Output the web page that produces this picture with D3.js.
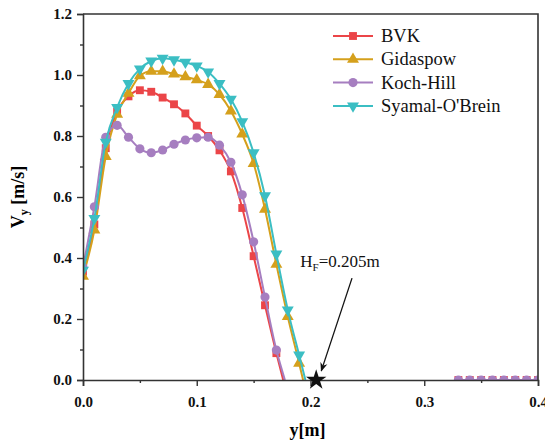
<!DOCTYPE html>
<html>
<head>
<meta charset="utf-8">
<script src="https://cdn.jsdelivr.net/npm/d3@7"></script>
<style>
  html, body { margin: 0; padding: 0; background: #fff; }
  svg { display: block; }
  text { font-family: "Liberation Serif", "Times New Roman", serif; }
</style>
</head>
<body>
<svg id="chart" width="545" height="443"></svg>
<script>
// Radial positions (m) where the vertical velocity was sampled
const yPos = [0.00, 0.01, 0.02, 0.03, 0.04, 0.05, 0.06, 0.07, 0.08, 0.09,
              0.10, 0.11, 0.12, 0.13, 0.14, 0.15, 0.16, 0.17, 0.18, 0.19];

// Vertical velocity Vy (m/s) per drag model
const bvk      = [0.355, 0.510, 0.760, 0.880, 0.930, 0.950, 0.945, 0.926, 0.904, 0.874,
                  0.834, 0.800, 0.753, 0.684, 0.564, 0.406, 0.245, 0.088];
const gidaspow = [0.340, 0.492, 0.733, 0.871, 0.940, 0.997, 1.012, 1.012, 1.003, 0.994,
                  0.984, 0.969, 0.936, 0.882, 0.806, 0.710, 0.560, 0.379, 0.208, 0.055];
const kochHill = [0.370, 0.568, 0.796, 0.835, 0.796, 0.758, 0.745, 0.754, 0.773, 0.787,
                  0.794, 0.796, 0.770, 0.714, 0.607, 0.453, 0.272, 0.098];
const syamal   = [0.360, 0.530, 0.780, 0.894, 0.972, 1.020, 1.046, 1.055, 1.050, 1.042,
                  1.030, 1.010, 0.972, 0.921, 0.847, 0.745, 0.604, 0.413, 0.230, 0.082];

// Position where each profile drops to zero velocity
const zeroAt = [0.176, 0.1935, 0.1775, 0.1955];

// Stagnant region near the wall (Vy = 0)
const wallPos  = [0.33, 0.34, 0.35, 0.36, 0.37, 0.38, 0.39, 0.40];
const wallBvk  = [0, 0, 0, 0, 0, 0, 0, 0];
const wallKoch = [0, 0, 0, 0, 0, 0, 0, 0];

const seriesNames = ["BVK", "Gidaspow", "Koch-Hill", "Syamal-O'Brein"];

// Bed height marker
const bedHeight = 0.205;
const bedLabel = "0.205m";

const xTicks = [0, 0.1, 0.2, 0.3, 0.4];
const yTicks = [0, 0.2, 0.4, 0.6, 0.8, 1.0, 1.2];

// ---- layout ----
const margin = { left: 83, right: 7, top: 14, bottom: 63 };
const W = 545, H = 443;
const svg = d3.select("#chart");

const x = d3.scaleLinear().domain([0, 0.4]).range([margin.left, W - margin.right]);
const y = d3.scaleLinear().domain([0, 1.2]).range([H - margin.bottom, margin.top]);

const colors  = ["#EB4548", "#D5A01C", "#A67EC0", "#3BBEC3"];
const shapes  = [d3.symbolSquare, d3.symbolTriangle, d3.symbolCircle, d3.symbolTriangle];
const sizes   = [62, 62, 66, 62];
const rotates = [0, 0, 0, 180];
const valueSets = [bvk, gidaspow, kochHill, syamal];

svg.append("defs").append("clipPath").attr("id", "plotClip")
  .append("rect")
  .attr("x", x(0)).attr("y", y(1.2))
  .attr("width", x(0.4) - x(0)).attr("height", y(0) - y(1.2));

const plot = svg.append("g").attr("clip-path", "url(#plotClip)");

const line = d3.line()
  .x(d => x(d[0])).y(d => y(d[1]))
  .curve(d3.curveMonotoneX);

function drawMarkers(g, pts, i) {
  g.selectAll(null).data(pts).join("path")
    .attr("d", d3.symbol().type(shapes[i]).size(sizes[i]))
    .attr("transform", d => `translate(${x(d[0])},${y(d[1])}) rotate(${rotates[i]})`)
    .attr("fill", colors[i]);
}

valueSets.forEach((vals, i) => {
  const pts = vals.map((v, k) => [yPos[k], v]);
  const g = plot.append("g");
  g.append("path")
    .datum(pts.concat([[zeroAt[i], 0]]))
    .attr("d", line)
    .attr("fill", "none")
    .attr("stroke", colors[i])
    .attr("stroke-width", 2);
  drawMarkers(g, pts, i);
});

// wall region points
[[wallBvk, 0], [wallKoch, 2]].forEach(([vals, i]) => {
  const pts = vals.map((v, k) => [wallPos[k], v]);
  const g = plot.append("g");
  g.append("path").datum(pts).attr("d", line)
    .attr("fill", "none").attr("stroke", colors[i]).attr("stroke-width", 2);
  drawMarkers(g, pts, i);
});

// ---- axes ----
const axisColor = "#333";
const xAxis = svg.append("g")
  .attr("transform", `translate(0,${y(0)})`)
  .call(d3.axisBottom(x).tickValues(xTicks).tickFormat(d3.format(".1f")).tickSize(6).tickPadding(10));
const xMinor = svg.append("g")
  .attr("transform", `translate(0,${y(0)})`)
  .call(d3.axisBottom(x).tickValues([0.05, 0.15, 0.25, 0.35]).tickFormat("").tickSize(3));
const yAxis = svg.append("g")
  .attr("transform", `translate(${x(0)},0)`)
  .call(d3.axisLeft(y).tickValues(yTicks).tickFormat(d3.format(".1f")).tickSize(6).tickPadding(5));
const yMinor = svg.append("g")
  .attr("transform", `translate(${x(0)},0)`)
  .call(d3.axisLeft(y).tickValues([0.1, 0.3, 0.5, 0.7, 0.9, 1.1]).tickFormat("").tickSize(3));

[xAxis, xMinor, yAxis, yMinor].forEach(a => {
  a.select(".domain").attr("stroke", axisColor).attr("stroke-width", 1.6);
  a.selectAll(".tick line").attr("stroke", axisColor).attr("stroke-width", 1.4);
  a.selectAll(".tick text")
    .attr("fill", "#111")
    .style("font-family", "'Liberation Serif', serif")
    .style("font-size", "15px")
    .style("font-weight", "bold");
});
xMinor.select(".domain").remove();
yMinor.select(".domain").remove();

// top and right frame
svg.append("path")
  .attr("d", `M${x(0)},${y(1.2)}H${x(0.4)}V${y(0)}`)
  .attr("fill", "none").attr("stroke", axisColor).attr("stroke-width", 1.6);

// axis titles
svg.append("text")
  .attr("x", (x(0) + x(0.4)) / 2 - 3).attr("y", 436)
  .attr("text-anchor", "middle")
  .style("font-size", "18px").style("font-weight", "bold")
  .text("y[m]");

const yt = svg.append("text")
  .attr("transform", `translate(24,${(y(0) + y(1.2)) / 2}) rotate(-90)`)
  .attr("text-anchor", "middle")
  .style("font-size", "18px").style("font-weight", "bold");
yt.append("tspan").text("V");
yt.append("tspan").attr("dy", 4).style("font-size", "12px").text("y");
yt.append("tspan").attr("dy", -4).text(" [m/s]");

// ---- legend ----
const legend = svg.append("g");
seriesNames.forEach((name, i) => {
  const ly = 36 + i * 23.3;
  legend.append("line")
    .attr("x1", 333).attr("x2", 373).attr("y1", ly).attr("y2", ly)
    .attr("stroke", colors[i]).attr("stroke-width", 2);
  legend.append("path")
    .attr("d", d3.symbol().type(shapes[i]).size(sizes[i])())
    .attr("transform", `translate(353,${ly}) rotate(${rotates[i]})`)
    .attr("fill", colors[i]);
  legend.append("text")
    .attr("x", 381).attr("y", ly + 6)
    .style("font-size", "18.5px").attr("fill", "#111")
    .text(name);
});

// ---- bed height annotation ----
svg.append("defs").append("marker")
  .attr("id", "arrowHead")
  .attr("viewBox", "0 0 10 10").attr("refX", 9).attr("refY", 5)
  .attr("markerWidth", 7).attr("markerHeight", 7)
  .attr("orient", "auto")
  .append("path").attr("d", "M0,1L10,5L0,9L3,5Z").attr("fill", "#111");

svg.append("line")
  .attr("x1", x(0.2365)).attr("y1", y(0.334))
  .attr("x2", x(0.2095)).attr("y2", y(0.03))
  .attr("stroke", "#111").attr("stroke-width", 1.3)
  .attr("marker-end", "url(#arrowHead)");

svg.append("path")
  .attr("d", d3.symbol().type(d3.symbolStar).size(130)())
  .attr("transform", `translate(${x(bedHeight)},${y(0)})`)
  .attr("fill", "#111");

const ann = svg.append("text")
  .attr("x", x(0.191)).attr("y", y(0.37))
  .style("font-size", "17px").attr("fill", "#111");
ann.append("tspan").text("H");
ann.append("tspan").attr("dy", 4).style("font-size", "11px").text("F");
ann.append("tspan").attr("dy", -4).text("=" + bedLabel);
</script>
</body>
</html>
